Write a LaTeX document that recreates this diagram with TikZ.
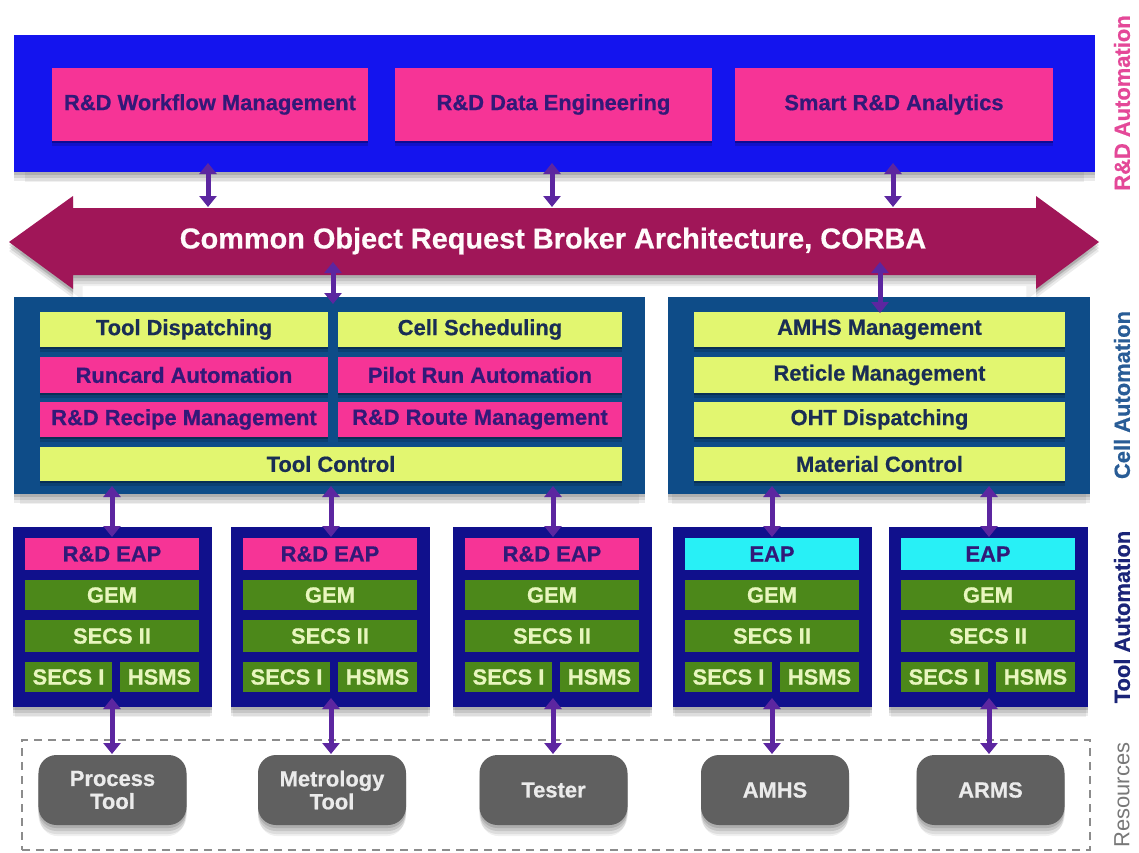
\documentclass[tikz,border=0pt]{standalone}
\usepackage{fontspec}
\setmainfont{Liberation Sans}[BoldFeatures={FakeBold=0.6}]
\usetikzlibrary{arrows.meta,shadows}

\definecolor{topblue}{RGB}{20,20,238}
\definecolor{hotpink}{RGB}{246,52,150}
\definecolor{pinktext}{RGB}{50,25,120}
\definecolor{corbared}{RGB}{160,22,88}
\definecolor{linkpurple}{RGB}{92,38,160}
\definecolor{cellblue}{RGB}{14,76,136}
\definecolor{lime}{RGB}{226,246,112}
\definecolor{limetext}{RGB}{25,45,85}
\definecolor{toolnavy}{RGB}{16,16,140}
\definecolor{gemgreen}{RGB}{76,136,26}
\definecolor{gemtext}{RGB}{232,246,190}
\definecolor{eapcyan}{RGB}{40,240,246}
\definecolor{resgray}{RGB}{96,96,96}
\definecolor{labpink}{RGB}{228,72,152}
\definecolor{labcell}{RGB}{40,92,150}
\definecolor{labtool}{RGB}{26,36,120}
\definecolor{labres}{RGB}{120,120,120}

\newcommand{\lblfont}{\fontsize{22}{23}\selectfont\bfseries}

\tikzset{
  softshadow/.style={
    drop shadow={shadow xshift=0bp, shadow yshift=-3bp, opacity=.12, fill=black},
    drop shadow={shadow xshift=0bp, shadow yshift=-6bp, opacity=.10, fill=black},
    drop shadow={shadow xshift=0bp, shadow yshift=-9bp, opacity=.08, fill=black},
    drop shadow={shadow xshift=0bp, shadow yshift=-12bp, shadow scale=.98, opacity=.06, fill=black}},
  innershadow/.style={
    drop shadow={shadow xshift=0bp, shadow yshift=-2bp, opacity=.25, fill=black},
    drop shadow={shadow xshift=0bp, shadow yshift=-5bp, opacity=.15, fill=black}},
  blk/.style={inner sep=0pt, outer sep=0pt, font=\lblfont, align=center},
  panel/.style={blk, fill=#1, softshadow},
  pinkbox/.style={blk, fill=hotpink, text=pinktext, innershadow},
  limebox/.style={blk, fill=lime, text=limetext, innershadow},
  greenbox/.style={blk, fill=gemgreen, text=gemtext},
  eapbox/.style={blk, fill=#1, text=pinktext},
  resbox/.style={blk, fill=resgray, text=white!92!black, rounded corners=18bp,
    minimum width=148bp, minimum height=70bp, softshadow},
  link/.style={draw=linkpurple, line width=5bp,
    {Triangle[width=17bp,length=11bp]}-{Triangle[width=17bp,length=11bp]}},
  sidelabel/.style={rotate=90, font=\lblfont, inner sep=0pt}
}

% one tool-automation stack: #1 name prefix, #2 left edge, #3 top colour, #4 top text
\newcommand{\toolstack}[4]{%
  \node[panel=toolnavy, minimum width=199bp, minimum height=180bp] (#1) at (#2+99.5,617) {};
  \node[eapbox=#3, minimum width=174bp, minimum height=32bp] (#1eap) at (#2+99,554) {#4};
  \node[greenbox, minimum width=174bp, minimum height=30bp] (#1gem) at (#2+99,595) {GEM};
  \node[greenbox, minimum width=174bp, minimum height=32bp] (#1s2) at (#2+99,636) {SECS II};
  \node[greenbox, minimum width=87bp, minimum height=30bp] (#1s1) at (#2+55.5,677) {SECS I};
  \node[greenbox, minimum width=79bp, minimum height=30bp] (#1hs) at (#2+146.5,677) {HSMS};
}

\begin{document}
\begin{tikzpicture}[x=1bp, y=-1bp]
\useasboundingbox (0,0) rectangle (1139,853);
\fill[white] (0,0) rectangle (1139,853);

% R&D automation layer
\node[panel=topblue, minimum width=1081bp, minimum height=137bp] (rd) at (554.5,103.5) {};
\node[pinkbox, minimum width=316bp, minimum height=73bp] (wf) at (210,104.5) {R\&D Workflow Management};
\node[pinkbox, minimum width=317bp, minimum height=73bp] (de) at (553.5,104.5) {R\&D Data Engineering};
\node[pinkbox, minimum width=318bp, minimum height=73bp] (sa) at (894,104.5) {Smart R\&D Analytics};

% CORBA bus
\fill[corbared, softshadow]
  (9,242) -- (73,196) -- (73,208) -- (1036,208) -- (1036,196) -- (1099,242)
  -- (1036,289) -- (1036,275) -- (73,275) -- (73,289) -- cycle;
\node[font=\fontsize{29}{30}\selectfont\bfseries, text=white!94!pink, inner sep=0pt] (corba) at (553,241)
  {Common Object Request Broker Architecture, CORBA};

% cell automation layer
\node[panel=cellblue, minimum width=631bp, minimum height=197bp] (cellL) at (329.5,395.5) {};
\node[panel=cellblue, minimum width=422bp, minimum height=197bp] (cellR) at (879,395.5) {};

\node[limebox, minimum width=288bp, minimum height=35bp] (td) at (184,329.5) {Tool Dispatching};
\node[limebox, minimum width=284bp, minimum height=35bp] (cs) at (480,329.5) {Cell Scheduling};
\node[pinkbox, minimum width=288bp, minimum height=36bp] (ra) at (184,375) {Runcard Automation};
\node[pinkbox, minimum width=284bp, minimum height=36bp] (pr) at (480,375) {Pilot Run Automation};
\node[pinkbox, minimum width=288bp, minimum height=35bp] (rm) at (184,419.5) {R\&D Recipe Management};
\node[pinkbox, minimum width=284bp, minimum height=35bp] (rt) at (480,419.5) {R\&D Route Management};
\node[limebox, minimum width=582bp, minimum height=34bp] (tc) at (331,464) {Tool Control};

\node[limebox, minimum width=371bp, minimum height=35bp] (am) at (879.5,329.5) {AMHS Management};
\node[limebox, minimum width=371bp, minimum height=36bp] (rtm) at (879.5,375) {Reticle Management};
\node[limebox, minimum width=371bp, minimum height=35bp] (oht) at (879.5,419.5) {OHT Dispatching};
\node[limebox, minimum width=371bp, minimum height=34bp] (mc) at (879.5,464) {Material Control};

% tool automation layer
\toolstack{ta}{13}{hotpink}{R\&D EAP}
\toolstack{tb}{231}{hotpink}{R\&D EAP}
\toolstack{tcx}{453}{hotpink}{R\&D EAP}
\toolstack{tdx}{673}{eapcyan}{EAP}
\toolstack{te}{889}{eapcyan}{EAP}

% resources
\node[draw=black!45, dashed, dash pattern=on 8bp off 6bp, line width=2.2bp, inner sep=0pt,
  minimum width=1068bp, minimum height=110bp] (res) at (556,795) {};
\node[resbox] (r1) at (112.5,790) {Process\\Tool};
\node[resbox] (r2) at (332,790) {Metrology\\Tool};
\node[resbox] (r3) at (553.5,790) {Tester};
\node[resbox] (r4) at (775,790) {AMHS};
\node[resbox] (r5) at (990.5,790) {ARMS};

% connector end points
\coordinate (a1) at (208,163);  \coordinate (b1) at (208,207);
\coordinate (a2) at (552,163);  \coordinate (b2) at (552,207);
\coordinate (a3) at (893,163);  \coordinate (b3) at (893,207);
\coordinate (c1) at (333,262);  \coordinate (d1) at (333,304);
\coordinate (c2) at (880,262);  \coordinate (d2) at (880,313);
\foreach \x/\n in {112/1,331/2,553/3,772/4,989/5}{
  \coordinate (e\n) at (\x,486); \coordinate (f\n) at (\x,537);
  \coordinate (g\n) at (\x,698); \coordinate (h\n) at (\x,754);
}

\draw[link] (a1) -- (b1);
\draw[link] (a2) -- (b2);
\draw[link] (a3) -- (b3);
\draw[link] (c1) -- (d1);
\draw[link] (c2) -- (d2);
\foreach \n in {1,...,5}{
  \draw[link] (e\n) -- (f\n);
  \draw[link] (g\n) -- (h\n);
}

% layer captions
\node[sidelabel, text=labpink] (capRD) at (1122,103) {R\&D Automation};
\node[sidelabel, text=labcell] (capCell) at (1122,395) {Cell Automation};
\node[sidelabel, text=labtool] (capTool) at (1122,617) {Tool Automation};
\node[sidelabel, text=labres, font=\fontsize{22}{23}\selectfont] (capRes) at (1122,795) {Resources};
\end{tikzpicture}
\end{document}
